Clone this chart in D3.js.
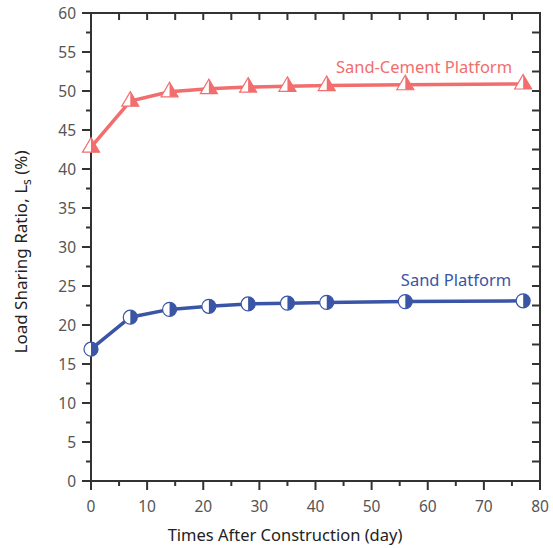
<!DOCTYPE html>
<html>
<head>
<meta charset="utf-8">
<script src="https://cdn.jsdelivr.net/npm/d3@7"></script>
<style>
  body { margin: 0; background: #fff; }
  text { font-family: "Noto Sans", "Open Sans", sans-serif; }
</style>
</head>
<body>
<div id="chart"></div>
<script>
const days = [0, 7, 14, 21, 28, 35, 42, 56, 77];
const sandCement = [42.8, 48.7, 49.9, 50.3, 50.5, 50.6, 50.7, 50.8, 50.9];
const sand = [16.9, 21.0, 22.0, 22.4, 22.7, 22.8, 22.9, 23.0, 23.1];
const xTicks = [0, 10, 20, 30, 40, 50, 60, 70, 80];
const yTicks = [0, 5, 10, 15, 20, 25, 30, 35, 40, 45, 50, 55, 60];

const width = 553, height = 548;
const margin = {top: 13, right: 13, bottom: 67, left: 91};
const red = '#f26d6d', blue = '#3a54a6', axisColor = '#333';

const svg = d3.select('#chart').append('svg')
  .attr('width', width).attr('height', height);

const x = d3.scaleLinear().domain([0, 80]).range([margin.left, width - margin.right]);
const y = d3.scaleLinear().domain([0, 60]).range([height - margin.bottom, margin.top]);

// frame ticks
const g = svg.append('g');
const minorX = d3.range(5, 80, 10);
const minorY = d3.range(2.5, 60, 5);

// bottom
g.selectAll('.bx').data(xTicks).join('line')
  .attr('x1', d => x(d)).attr('x2', d => x(d))
  .attr('y1', y(0)).attr('y2', y(0) + 9)
  .attr('stroke', axisColor).attr('stroke-width', 2);
g.selectAll('.bxm').data(minorX).join('line')
  .attr('x1', d => x(d)).attr('x2', d => x(d))
  .attr('y1', y(0)).attr('y2', y(0) + 5)
  .attr('stroke', axisColor).attr('stroke-width', 2);
// left
g.selectAll('.ly').data(yTicks).join('line')
  .attr('x1', x(0) - 9).attr('x2', x(0))
  .attr('y1', d => y(d)).attr('y2', d => y(d))
  .attr('stroke', axisColor).attr('stroke-width', 2);
g.selectAll('.lym').data(minorY).join('line')
  .attr('x1', x(0) - 5).attr('x2', x(0))
  .attr('y1', d => y(d)).attr('y2', d => y(d))
  .attr('stroke', axisColor).attr('stroke-width', 2);
// top, inward every 5
g.selectAll('.tx').data(d3.range(0, 81, 5)).join('line')
  .attr('x1', d => x(d)).attr('x2', d => x(d))
  .attr('y1', y(60)).attr('y2', y(60) + 7)
  .attr('stroke', axisColor).attr('stroke-width', 2);
// right, inward every 2.5
g.selectAll('.ry').data(d3.range(0, 60.1, 2.5)).join('line')
  .attr('x1', x(80) - 8).attr('x2', x(80))
  .attr('y1', d => y(d)).attr('y2', d => y(d))
  .attr('stroke', axisColor).attr('stroke-width', 2);

svg.append('rect')
  .attr('x', x(0)).attr('y', y(60))
  .attr('width', x(80) - x(0)).attr('height', y(0) - y(60))
  .attr('fill', 'none').attr('stroke', axisColor).attr('stroke-width', 2);

// tick labels
svg.selectAll('.xl').data(xTicks).join('text')
  .attr('x', d => x(d)).attr('y', y(0) + 31)
  .attr('text-anchor', 'middle').attr('font-size', 15.5).attr('fill', '#555')
  .text(d => d);
svg.selectAll('.yl').data(yTicks).join('text')
  .attr('x', x(0) - 15).attr('y', d => y(d) + 5.5)
  .attr('text-anchor', 'end').attr('font-size', 15.5).attr('fill', '#555')
  .text(d => d);

// axis titles
svg.append('text')
  .attr('x', 285).attr('y', 541)
  .attr('text-anchor', 'middle').attr('font-size', 16.5).attr('fill', '#222')
  .text('Times After Construction (day)');

const yt = svg.append('text')
  .attr('transform', 'translate(27,252) rotate(-90)')
  .attr('text-anchor', 'middle').attr('font-size', 17).attr('fill', '#222');
yt.append('tspan').text('Load Sharing Ratio, L');
yt.append('tspan').attr('font-size', 12).attr('dy', 4).text('s');
yt.append('tspan').attr('dy', -4).text(' (%)');

// series
const line = d3.line().x(d => x(d[0])).y(d => y(d[1]));
const scData = days.map((d, i) => [d, sandCement[i]]);
const sData = days.map((d, i) => [d, sand[i]]);

svg.append('path').datum(scData).attr('d', line)
  .attr('fill', 'none').attr('stroke', red).attr('stroke-width', 3.5);
svg.append('path').datum(sData).attr('d', line)
  .attr('fill', 'none').attr('stroke', blue).attr('stroke-width', 3.5);

// triangle markers: left half white, right half red
const tri = svg.selectAll('.tri').data(scData).join('g')
  .attr('transform', d => 'translate(' + x(d[0]) + ',' + y(d[1]) + ')');
tri.append('path').attr('d', 'M0,-9.5 L8.5,5 L-8.5,5 Z')
  .attr('fill', '#fff').attr('stroke', red).attr('stroke-width', 1.2);
tri.append('path').attr('d', 'M0,-9.5 L8.5,5 L0,5 Z')
  .attr('fill', red);

// circle markers: left half white, right half blue
const circ = svg.selectAll('.circ').data(sData).join('g')
  .attr('transform', d => 'translate(' + x(d[0]) + ',' + y(d[1]) + ')');
circ.append('circle').attr('r', 7)
  .attr('fill', '#fff').attr('stroke', blue).attr('stroke-width', 1.2);
circ.append('path').attr('d', 'M0,-7 A7,7 0 0,1 0,7 Z')
  .attr('fill', blue);

// series labels
svg.append('text').attr('x', 424).attr('y', y(52.3))
  .attr('text-anchor', 'middle').attr('font-size', 16.5).attr('fill', red)
  .text('Sand-Cement Platform');
svg.append('text').attr('x', 456).attr('y', y(25.0))
  .attr('text-anchor', 'middle').attr('font-size', 16.5).attr('fill', blue)
  .text('Sand Platform');
</script>
</body>
</html>
